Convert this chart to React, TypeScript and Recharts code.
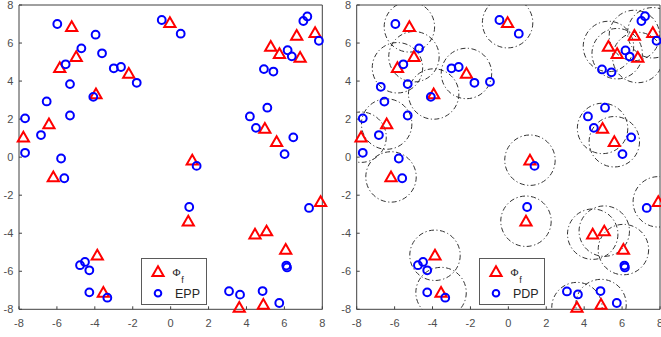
import { Scatter, ScatterChart, XAxis, YAxis } from "recharts";

const TICKS = [-8, -6, -4, -2, 0, 2, 4, 6, 8];

// Phi_f sample locations (red triangles), same on both panels
const phiF: [number, number][] = [
  [-7.77, 1.05], [-6.42, 1.74], [-5.85, 4.7], [-5.22, 6.85], [-4.98, 5.28],
  [-3.94, 3.32], [-2.21, 4.4], [-0.04, 7.07], [5.28, 5.82], [5.74, 5.44],
  [6.65, 6.4], [6.83, 5.24], [7.62, 6.54], [4.97, 1.51], [5.59, 0.81],
  [1.14, -0.16], [0.93, -3.37], [4.45, -4.05], [5.06, -3.89], [6.07, -4.86],
  [7.91, -2.35], [3.62, -7.91], [4.89, -7.75], [-6.19, -1.04], [-3.87, -5.16],
  [-3.55, -7.12],
];

// EPP points (left panel)
const epp: [number, number][] = [
  [-5.98, 7.0], [-3.96, 6.44], [-4.71, 5.72], [-3.62, 5.46], [-5.54, 4.88],
  [-3.0, 4.67], [-2.62, 4.74], [-1.79, 3.91], [-5.31, 3.84], [-4.08, 3.17],
  [-6.54, 2.93], [-5.31, 2.19], [-7.68, 2.04], [-6.84, 1.16], [-7.68, 0.23],
  [-5.78, -0.07], [-0.47, 7.21], [0.53, 6.49], [7.21, 7.4], [7.0, 7.16],
  [7.82, 6.12], [6.17, 5.62], [6.39, 5.3], [4.92, 4.63], [5.42, 4.5],
  [5.1, 2.6], [4.18, 2.14], [4.5, 1.54], [6.47, 1.04], [6.01, 0.16],
  [1.37, -0.46], [0.98, -2.62], [7.3, -2.67], [6.1, -5.7], [6.14, -5.8],
  [3.08, -7.05], [3.66, -7.23], [4.85, -7.04], [5.73, -7.67], [-5.61, -1.11],
  [-4.78, -5.68], [-4.52, -5.51], [-4.29, -5.95], [-4.29, -7.11], [-3.34, -7.39],
];

// PDP points (right panel)
const pdp: [number, number][] = [
  [-5.96, 7.0], [-4.71, 5.72], [-5.54, 4.88], [-5.31, 3.84], [-6.73, 3.7],
  [-6.54, 2.92], [-5.31, 2.19], [-7.68, 2.04], [-6.83, 1.16], [-7.68, 0.23],
  [-5.78, -0.07], [-4.09, 3.17], [-3.0, 4.67], [-2.62, 4.74], [-1.79, 3.91],
  [-0.97, 3.96], [-0.47, 7.21], [0.55, 6.49], [7.21, 7.41], [7.02, 7.16],
  [7.82, 6.12], [6.18, 5.61], [6.4, 5.29], [4.94, 4.61], [5.44, 4.46],
  [5.1, 2.6], [4.2, 2.14], [4.51, 1.54], [6.48, 1.04], [6.02, 0.16],
  [1.38, -0.46], [0.99, -2.62], [7.3, -2.67], [6.12, -5.7], [6.15, -5.8],
  [3.09, -7.06], [3.67, -7.22], [4.86, -7.04], [5.72, -7.67], [-5.6, -1.11],
  [-4.77, -5.68], [-4.5, -5.51], [-4.28, -5.95], [-4.28, -7.11], [-3.33, -7.39],
];

const RING = 1.33; // dash-dot ring radius around each Phi_f point (data units)
const PLOT_W = 303.3;
const PX_PER_UNIT = PLOT_W / 16;

const AXIS = "#404040";
const SANS = "'Liberation Sans', Arial, Helvetica, sans-serif";
const tickStyle = { fontSize: 11, fill: "#4d4d4d", fontFamily: SANS };

const toPts = (arr: [number, number][]) => arr.map(([x, y]) => ({ x, y }));

function Tri(props: any) {
  const { cx, cy } = props;
  if (cx == null || cy == null) return null;
  return (
    <path
      d={`M${cx},${cy - 5.5}L${cx + 5.6},${cy + 4.2}L${cx - 5.6},${cy + 4.2}Z`}
      fill="none"
      stroke="#ff0000"
      strokeWidth={2}
    />
  );
}

function Dot(props: any) {
  const { cx, cy } = props;
  if (cx == null || cy == null) return null;
  return <circle cx={cx} cy={cy} r={3.9} fill="none" stroke="#0000ff" strokeWidth={2} />;
}

function Ring(props: any) {
  const { cx, cy } = props;
  if (cx == null || cy == null) return null;
  return (
    <circle
      cx={cx}
      cy={cy}
      r={RING * PX_PER_UNIT}
      fill="none"
      stroke="#333"
      strokeWidth={1}
      strokeDasharray="5 2.5 1.2 2.5"
    />
  );
}

function LegendBox({ left, label }: { left: number; label: string }) {
  return (
    <svg style={{ position: "absolute", left, top: 258 }} width={67} height={48}>
      <rect x={0.5} y={0.5} width={65} height={46} fill="#fff" stroke="#5a5a5a" strokeWidth={1} />
      <Tri cx={17} cy={13.8} />
      <circle cx={17} cy={35.2} r={3.3} fill="none" stroke="#0000ff" strokeWidth={2} />
      <text x={31.5} y={18} fontFamily="'Liberation Serif', 'Times New Roman', serif" fontSize={11} fill="#262626">
        Φ
      </text>
      <text x={40.2} y={25} fontFamily={SANS} fontSize={9} fill="#262626">
        f
      </text>
      <text x={34} y={39.6} fontFamily={SANS} fontSize={12.5} fill="#262626">
        {label}
      </text>
    </svg>
  );
}

function Panel({
  left,
  width,
  yWidth,
  marginRight,
  points,
  rings,
  label,
}: {
  left: number;
  width: number;
  yWidth: number;
  marginRight: number;
  points: [number, number][];
  rings: boolean;
  label: string;
}) {
  const axisCommon = {
    type: "number" as const,
    domain: [-8, 8],
    ticks: TICKS,
    interval: 0 as const,
    tickSize: -3,
    stroke: AXIS,
    tickLine: { stroke: AXIS },
    axisLine: { stroke: AXIS },
  };
  return (
    <div style={{ position: "absolute", left, top: 0, width, height: 337 }}>
      <ScatterChart width={width} height={337} margin={{ top: 4, right: marginRight, bottom: 7.7, left: 0 }}>
        <XAxis {...axisCommon} dataKey="x" xAxisId={0} height={20} tickMargin={13} tick={tickStyle} />
        <XAxis {...axisCommon} dataKey="x" xAxisId="top" orientation="top" height={1} tick={false} />
        <YAxis {...axisCommon} dataKey="y" yAxisId={0} width={yWidth} tickMargin={8.7} tick={tickStyle} />
        <YAxis {...axisCommon} dataKey="y" yAxisId="right" orientation="right" width={1} tick={false} />
        <XAxis dataKey="x" xAxisId="ring" type="number" domain={[-8, 8]} allowDataOverflow hide />
        <YAxis dataKey="y" yAxisId="ring" type="number" domain={[-8, 8]} allowDataOverflow hide />
        {rings && (
          <Scatter
            data={toPts(phiF)}
            xAxisId="ring"
            yAxisId="ring"
            shape={<Ring />}
            isAnimationActive={false}
          />
        )}
        <Scatter data={toPts(phiF)} xAxisId={0} yAxisId={0} shape={<Tri />} isAnimationActive={false} />
        <Scatter data={toPts(points)} xAxisId={0} yAxisId={0} shape={<Dot />} isAnimationActive={false} />
      </ScatterChart>
      <LegendBox left={left === 0 ? 140.7 : 148.7} label={label} />
    </div>
  );
}

export default function App() {
  return (
    <div style={{ position: "absolute", left: 0, top: 0, width: 661, height: 337, background: "#fff", overflow: "hidden" }}>
      <Panel left={0} width={330} yWidth={19} marginRight={6.7} points={epp} rings={false} label="EPP" />
      <Panel left={330} width={331} yWidth={26.7} marginRight={0} points={pdp} rings label="PDP" />
    </div>
  );
}
